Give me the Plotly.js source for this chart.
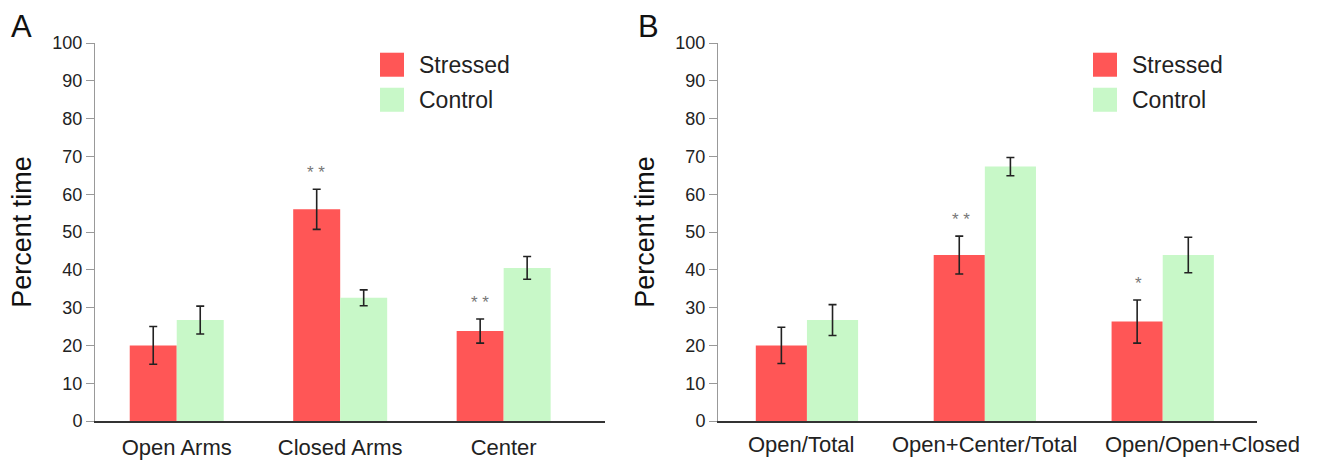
<!DOCTYPE html>
<html>
<head>
<meta charset="utf-8">
<script src="https://cdn.plot.ly/plotly-3.0.1.min.js"></script>
<style>
html,body{margin:0;padding:0;background:#fff;}
#chart{width:1320px;height:466px;}
</style>
</head>
<body>
<div id="chart"></div>
<script>
// ---- data ----
const categoriesA = ['Open Arms', 'Closed Arms', 'Center'];
const stressedA = [20, 56, 23.8];
const stressedErrA = [5, 5.3, 3.2];
const controlA = [26.7, 32.6, 40.5];
const controlErrA = [3.7, 2.1, 3.0];
const starsA = ['', '**', '**'];

const categoriesB = ['Open/Total', 'Open+Center/Total', 'Open/Open+Closed'];
const stressedB = [20, 43.9, 26.3];
const stressedErrB = [4.8, 5.0, 5.7];
const controlB = [26.7, 67.3, 43.9];
const controlErrB = [4.1, 2.4, 4.7];
const starsB = ['', '**', '*'];

const seriesNames = ['Stressed', 'Control'];
const yTicks = [0, 10, 20, 30, 40, 50, 60, 70, 80, 90, 100];
const panelLabels = ['A', 'B'];
const yTitle = 'Percent time';

// ---- style ----
const RED = '#FF5656';
const GREEN = '#C8F8C8';
const FONT = 'Liberation Sans, Arial, sans-serif';
const W = 1320;
const domA = [95 / W, 605 / W];
const domB = [718 / W, 1257 / W];
const labelShiftB = [-6, 0, 40];

function bar(x, y, err, name, color, xa, ya) {
  return {
    type: 'bar', x: x, y: y, name: name, xaxis: xa, yaxis: ya,
    marker: {color: color, line: {width: 0}},
    error_y: {type: 'data', array: err, visible: true, color: '#222', thickness: 1.6, width: 4},
    showlegend: false, hoverinfo: 'x+y'
  };
}

const data = [
  bar(categoriesA, stressedA, stressedErrA, seriesNames[0], RED, 'x', 'y'),
  bar(categoriesA, controlA, controlErrA, seriesNames[1], GREEN, 'x', 'y'),
  bar(categoriesB, stressedB, stressedErrB, seriesNames[0], RED, 'x2', 'y2'),
  bar(categoriesB, controlB, controlErrB, seriesNames[1], GREEN, 'x2', 'y2')
];

const annotations = [];
function addStars(cats, vals, errs, stars, xa, ya) {
  cats.forEach((c, i) => {
    if (!stars[i]) return;
    annotations.push({
      x: c, y: vals[i] + errs[i], xref: xa, yref: ya,
      text: stars[i].split('').join(' '), showarrow: false,
      xanchor: 'center', yanchor: 'bottom', yshift: 5, xshift: -24,
      font: {family: FONT, size: 17, color: '#777'}
    });
  });
}
addStars(categoriesA, stressedA, stressedErrA, starsA, 'x', 'y');
addStars(categoriesB, stressedB, stressedErrB, starsB, 'x2', 'y2');

// panel B category labels (positioned as in the original figure)
categoriesB.forEach((c, i) => {
  annotations.push({
    x: c, y: 0, xref: 'x2', yref: 'y2', xanchor: 'center', yanchor: 'top',
    yshift: -9, xshift: labelShiftB[i], text: c, showarrow: false,
    font: {family: FONT, size: 22, color: '#222'}
  });
});

// panel letters
annotations.push({x: 9 / W, y: 1, xref: 'paper', yref: 'paper', yanchor: 'top', xanchor: 'left', yshift: 43 - 7,
  text: panelLabels[0], showarrow: false, font: {family: FONT, size: 31, color: '#111'}});
annotations.push({x: 636 / W, y: 1, xref: 'paper', yref: 'paper', yanchor: 'top', xanchor: 'left', yshift: 43 - 7,
  text: panelLabels[1], showarrow: false, font: {family: FONT, size: 31, color: '#111'}});

// custom legends
const shapes = [];
function addLegend(px) {
  const colors = [RED, GREEN];
  [0, 1].forEach(k => {
    const top = 53 + k * 35;
    shapes.push({type: 'rect', xref: 'paper', yref: 'paper',
      x0: px / W, x1: (px + 24) / W,
      y0: 1 - (top + 24 - 43.3) / 377.7, y1: 1 - (top - 43.3) / 377.7,
      fillcolor: colors[k], line: {width: 0}});
    annotations.push({x: (px + 37) / W, y: 1 - (top + 12 - 43.3) / 377.7, xref: 'paper', yref: 'paper',
      xanchor: 'left', yanchor: 'middle', text: seriesNames[k], showarrow: false,
      font: {family: FONT, size: 23, color: '#222'}});
  });
}
addLegend(380);
addLegend(1093);

function yaxis(anchor) {
  return {
    anchor: anchor, domain: [0, 1], range: [0, 100], tickvals: yTicks,
    showline: true, linecolor: '#999', linewidth: 1,
    ticks: 'outside', ticklen: 8, tickcolor: '#999', tickwidth: 1,
    showgrid: false, zeroline: false,
    tickfont: {family: FONT, size: 18, color: '#222'},
    title: {text: yTitle, font: {family: FONT, size: 27, color: '#111'}, standoff: 12},
    fixedrange: true
  };
}
function xaxis(dom, anchor, end, showLabels) {
  return {
    domain: dom, anchor: anchor, type: 'category', range: [-0.5, end],
    showline: true, linecolor: '#333', linewidth: 2, ticks: '', showgrid: false, zeroline: false,
    showticklabels: showLabels, tickangle: 0, ticklabelstandoff: 6,
    tickfont: {family: FONT, size: 22, color: '#222'}, fixedrange: true
  };
}

const layout = {
  width: 1320, height: 466,
  margin: {l: 0, r: 0, t: 43, b: 45},
  paper_bgcolor: '#fff', plot_bgcolor: 'rgba(0,0,0,0)',
  barmode: 'group', bargap: 0.425, bargroupgap: 0,
  xaxis: xaxis(domA, 'y', 2.62, true),
  yaxis: yaxis('x'),
  xaxis2: xaxis(domB, 'y2', 2.53, false),
  yaxis2: yaxis('x2'),
  annotations: annotations,
  shapes: shapes,
  showlegend: false,
  font: {family: FONT}
};

Plotly.newPlot('chart', data, layout, {displayModeBar: false, staticPlot: true});
</script>
</body>
</html>
